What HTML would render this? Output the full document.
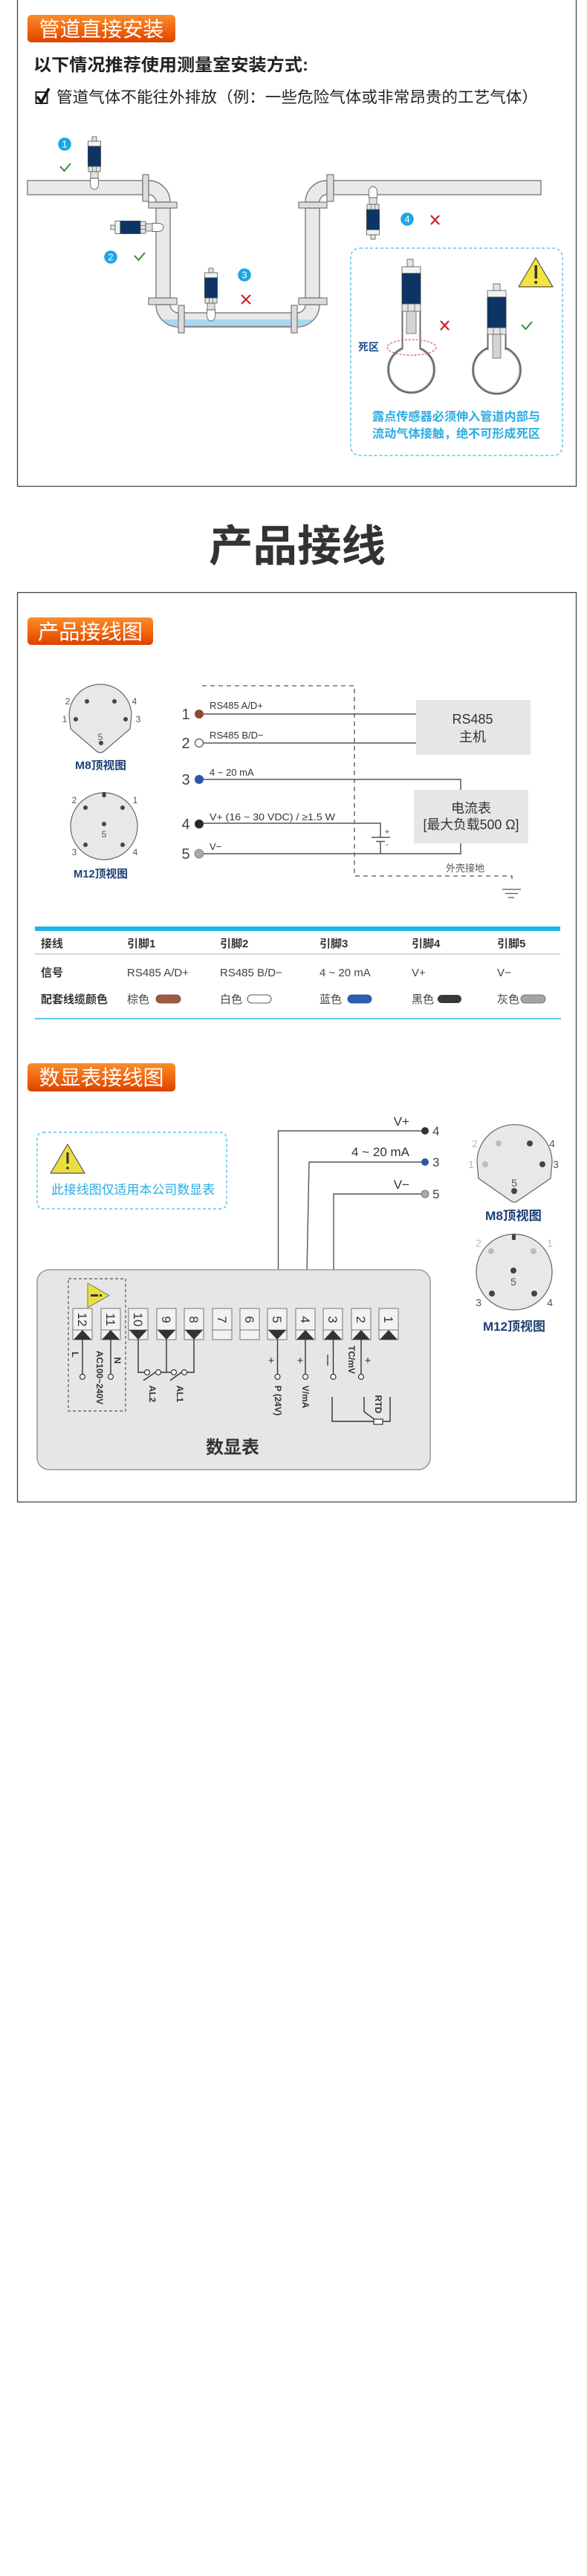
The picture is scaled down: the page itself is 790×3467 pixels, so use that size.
<!DOCTYPE html>
<html><head><meta charset="utf-8">
<style>
html,body{margin:0;padding:0;background:#fff;}
body{width:790px;height:3467px;overflow:hidden;}
svg{display:block;}
text{font-family:"Liberation Sans","Noto Sans CJK SC",sans-serif;}
</style></head>
<body>
<svg width="790" height="3467" viewBox="0 0 790 3467" xmlns="http://www.w3.org/2000/svg">
<defs>
<linearGradient id="og" x1="0" y1="0" x2="0" y2="1">
<stop offset="0" stop-color="#f88d2c"/><stop offset="0.5" stop-color="#f2680f"/><stop offset="1" stop-color="#dc4200"/>
</linearGradient>
<g id="sensor">
<rect x="-3" y="0" width="6" height="6" fill="#e4e4e4" stroke="#555" stroke-width="0.8"/>
<rect x="-8.5" y="6" width="17" height="7" fill="#f2f2f2" stroke="#555" stroke-width="0.8"/>
<rect x="-8.5" y="13" width="17" height="27" fill="#0c3566" stroke="#333" stroke-width="0.8"/>
<rect x="-8" y="40" width="16" height="7" fill="#e4e4e4" stroke="#555" stroke-width="0.8"/>
<line x1="-2.5" y1="40" x2="-2.5" y2="47" stroke="#555" stroke-width="0.7"/>
<line x1="2.5" y1="40" x2="2.5" y2="47" stroke="#555" stroke-width="0.7"/>
<rect x="-5" y="47" width="10" height="9" fill="#e0e0e0" stroke="#555" stroke-width="0.8"/>
<path d="M-5.5,56 H5.5 V64 A5.5,7 0 0 1 -5.5,64 Z" fill="#fff" stroke="#666" stroke-width="0.9"/>
</g>
<clipPath id="wclip"><rect x="0" y="430" width="790" height="20"/></clipPath>
</defs>

<!-- ============ FRAME 1 ============ -->
<path d="M23.5,-2 V654.5 H775.5 V-2" fill="none" stroke="#444" stroke-width="1.3"/>
<rect x="37" y="20" width="199" height="37" rx="5" fill="url(#og)"/>
<text x="136.5" y="49" font-size="28" fill="#fff" text-anchor="middle" textLength="168" lengthAdjust="spacingAndGlyphs">管道直接安装</text>
<text x="45" y="95" font-size="23" font-weight="bold" fill="#222" textLength="370" lengthAdjust="spacingAndGlyphs">以下情况推荐使用测量室安装方式:</text>
<rect x="48.5" y="124" width="15" height="15" fill="none" stroke="#222" stroke-width="2"/>
<path d="M50,130 L55.5,137.5 L66,119" fill="none" stroke="#111" stroke-width="3.5"/>
<text x="76" y="138" font-size="21" fill="#222" textLength="648" lengthAdjust="spacingAndGlyphs">管道气体不能往外排放（例：一些危险气体或非常昂贵的工艺气体）</text>

<!-- pipes -->
<g fill="#e9e9ea" stroke="#7a7a7a" stroke-width="1.4">
<rect x="37" y="243" width="155" height="19"/>
<path d="M200,243 A29,29 0 0 1 229,272 L210,272 A10,10 0 0 0 200,262 Z"/>
<rect x="210" y="280" width="19" height="121"/>
<path d="M210,410 A30,30 0 0 0 240,440 L240,421 A11,11 0 0 1 229,410 Z"/>
<rect x="248" y="421" width="144" height="19"/>
<path d="M400,440 A30,30 0 0 0 430,410 L411,410 A11,11 0 0 1 400,421 Z"/>
<rect x="411" y="280" width="19" height="121"/>
<path d="M411,272 A29,29 0 0 1 440,243 L440,262 A10,10 0 0 0 430,272 Z"/>
<rect x="449" y="243" width="279" height="19"/>
</g>
<!-- water -->
<g fill="#a8d8ec" clip-path="url(#wclip)">
<path d="M210.7,410 A29.3,29.3 0 0 0 240,439.3 L240,421 A11,11 0 0 1 229,410 Z"/>
<rect x="248" y="430" width="144" height="9.3"/>
<path d="M400,439.3 A29.3,29.3 0 0 0 429.3,410 L411,410 A11,11 0 0 1 400,421 Z"/>
</g>
<line x1="248" y1="439.5" x2="392" y2="439.5" stroke="#7a7a7a" stroke-width="1.4"/>
<!-- flanges -->
<g fill="#dcdcdc" stroke="#777" stroke-width="1.2">
<rect x="192" y="235" width="8" height="36"/>
<rect x="200" y="272" width="38" height="8"/>
<rect x="200" y="401" width="38" height="9"/>
<rect x="240" y="411" width="8" height="37"/>
<rect x="392" y="411" width="8" height="37"/>
<rect x="402" y="401" width="38" height="9"/>
<rect x="402" y="272" width="38" height="8"/>
<rect x="440" y="235" width="9" height="36"/>
</g>
<!-- sensors -->
<use href="#sensor" transform="translate(127,184)"/>
<use href="#sensor" transform="translate(149,306) rotate(-90)"/>
<use href="#sensor" transform="translate(284,361)"/>
<use href="#sensor" transform="translate(502,322) rotate(180)"/>
<!-- badges -->
<g fill="#1ea6e2">
<circle cx="87" cy="194" r="8.8"/><circle cx="149" cy="346" r="8.8"/><circle cx="329" cy="370" r="8.8"/><circle cx="548" cy="295" r="8.8"/>
</g>
<g fill="#fff" font-size="13" text-anchor="middle">
<text x="87" y="198.5">1</text><text x="149" y="350.5">2</text><text x="329" y="374.5">3</text><text x="548" y="299.5">4</text>
</g>
<g fill="none" stroke="#3a8a3a" stroke-width="2">
<path d="M81,224 L86.5,230 L95,220"/>
<path d="M181,344 L186.5,350 L195,340"/>
<path d="M702,437 L707.5,443 L716,433"/>
</g>
<g stroke="#d0202a" stroke-width="2.2">
<path d="M325,397 L337,409 M337,397 L325,409"/>
<path d="M580,290 L591,302 M591,290 L580,302"/>
<path d="M593,432 L604,444 M604,432 L593,444"/>
</g>

<!-- dashed box -->
<rect x="472" y="334" width="285" height="279" rx="12" fill="none" stroke="#5bc8ec" stroke-width="1.5" stroke-dasharray="4,3"/>
<polygon points="721,347 744,386 698,386" fill="#f2e53c" stroke="#555" stroke-width="1.2" stroke-linejoin="round"/>
<rect x="719.5" y="357" width="3.5" height="18" fill="#333"/><circle cx="721.2" cy="380" r="2" fill="#333"/>
<!-- left big sensor -->
<circle cx="553.5" cy="497.5" r="31" fill="#fff" stroke="#6a6a6a" stroke-width="2.6"/>
<circle cx="553.5" cy="497.5" r="29" fill="none" stroke="#cfcfcf" stroke-width="1"/>
<rect x="542.5" y="462" width="22" height="10" fill="#fff"/>
<line x1="541.5" y1="419" x2="541.5" y2="470" stroke="#6a6a6a" stroke-width="2"/>
<line x1="565.5" y1="419" x2="565.5" y2="470" stroke="#6a6a6a" stroke-width="2"/>
<rect x="548" y="349" width="8" height="10" fill="#e4e4e4" stroke="#555" stroke-width="0.8"/>
<rect x="541" y="359" width="25" height="9" fill="#f2f2f2" stroke="#555" stroke-width="0.8"/>
<rect x="541" y="368" width="25" height="41" fill="#0c3566" stroke="#333" stroke-width="0.8"/>
<rect x="541" y="409" width="25" height="10" fill="#e4e4e4" stroke="#555" stroke-width="0.8"/>
<line x1="549" y1="409" x2="549" y2="419" stroke="#555" stroke-width="0.7"/><line x1="558" y1="409" x2="558" y2="419" stroke="#555" stroke-width="0.7"/>
<rect x="547" y="419" width="13" height="30" fill="#d4d4d4" stroke="#666" stroke-width="0.8"/>
<ellipse cx="554" cy="467.5" rx="33" ry="10.5" fill="none" stroke="#e06070" stroke-width="1.3" stroke-dasharray="3,2"/>
<text x="482" y="472" font-size="14" font-weight="bold" fill="#1a4a8a">死区</text>
<!-- right big sensor -->
<circle cx="668.5" cy="498" r="32" fill="#fff" stroke="#6a6a6a" stroke-width="2.6"/>
<circle cx="668.5" cy="498" r="30" fill="none" stroke="#cfcfcf" stroke-width="1"/>
<rect x="657.5" y="462" width="22" height="10" fill="#fff"/>
<line x1="656.5" y1="450" x2="656.5" y2="471" stroke="#6a6a6a" stroke-width="2"/>
<line x1="680.5" y1="450" x2="680.5" y2="471" stroke="#6a6a6a" stroke-width="2"/>
<rect x="664" y="382" width="9" height="9" fill="#e4e4e4" stroke="#555" stroke-width="0.8"/>
<rect x="656" y="391" width="25" height="9" fill="#f2f2f2" stroke="#555" stroke-width="0.8"/>
<rect x="656" y="400" width="25" height="41" fill="#0c3566" stroke="#333" stroke-width="0.8"/>
<rect x="656" y="441" width="25" height="9" fill="#e4e4e4" stroke="#555" stroke-width="0.8"/>
<line x1="664" y1="441" x2="664" y2="450" stroke="#555" stroke-width="0.7"/><line x1="673" y1="441" x2="673" y2="450" stroke="#555" stroke-width="0.7"/>
<rect x="663" y="450" width="11" height="32" fill="#d4d4d4" stroke="#666" stroke-width="0.8"/>
<text x="501" y="566" font-size="16" font-weight="bold" fill="#2aace2" textLength="226" lengthAdjust="spacingAndGlyphs">露点传感器必须伸入管道内部与</text>
<text x="501" y="589" font-size="16" font-weight="bold" fill="#2aace2" textLength="226" lengthAdjust="spacingAndGlyphs">流动气体接触，绝不可形成死区</text>

<!-- ============ HEADING ============ -->
<text x="281" y="755" font-size="58" font-weight="bold" fill="#333" textLength="238" lengthAdjust="spacingAndGlyphs">产品接线</text>

<!-- ============ FRAME 2 ============ -->
<rect x="23.5" y="797.5" width="752" height="1224" fill="none" stroke="#444" stroke-width="1.3"/>
<rect x="37" y="831" width="169" height="37" rx="5" fill="url(#og)"/>
<text x="121.5" y="860" font-size="28" fill="#fff" text-anchor="middle" textLength="141" lengthAdjust="spacingAndGlyphs">产品接线图</text>

<!-- M8 connector -->
<path d="M93,963 A42,42 0 0 1 177,963 L175,981 L140,1011 Q135,1015 130,1011 L95,981 Z" fill="#e8e8e8" stroke="#666" stroke-width="1.2"/>
<g fill="#444"><circle cx="117" cy="944" r="3"/><circle cx="154" cy="944" r="3"/><circle cx="102" cy="968" r="3"/><circle cx="169" cy="968" r="3"/><circle cx="136" cy="1000" r="3"/></g>
<g font-size="12" fill="#555" text-anchor="middle">
<text x="91" y="948">2</text><text x="181" y="948">4</text><text x="87" y="972">1</text><text x="186" y="972">3</text><text x="135" y="996">5</text>
</g>
<text x="101" y="1035" font-size="15" font-weight="bold" fill="#1d3f73" textLength="69" lengthAdjust="spacingAndGlyphs">M8顶视图</text>
<!-- M12 -->
<circle cx="140" cy="1112" r="45" fill="#e8e8e8" stroke="#666" stroke-width="1.2"/>
<rect x="137.5" y="1066" width="5" height="7" rx="1.5" fill="#444"/>
<g fill="#444"><circle cx="115" cy="1087" r="3"/><circle cx="165" cy="1087" r="3"/><circle cx="140" cy="1109" r="3"/><circle cx="115" cy="1137" r="3"/><circle cx="165" cy="1137" r="3"/></g>
<g font-size="12" fill="#555" text-anchor="middle">
<text x="100" y="1081">2</text><text x="182" y="1081">1</text><text x="140" y="1127">5</text><text x="100" y="1151">3</text><text x="182" y="1151">4</text>
</g>
<text x="99" y="1181" font-size="15" font-weight="bold" fill="#1d3f73" textLength="73" lengthAdjust="spacingAndGlyphs">M12顶视图</text>

<!-- wiring -->
<path d="M272,923 H477 V1179 H689 V1188" fill="none" stroke="#555" stroke-width="1.3" stroke-dasharray="6,5"/>
<rect x="560" y="942" width="154" height="74" fill="#e6e6e7"/>
<rect x="557" y="1063" width="154" height="72" fill="#e6e6e7"/>
<g stroke="#555" stroke-width="1.5" fill="none">
<path d="M274,961 H560"/>
<path d="M274,1000 H560"/>
<path d="M274,1049 H620 V1063"/>
<path d="M274,1108 H512 V1127"/>
<path d="M512,1132 V1149"/>
<path d="M274,1149 H620 V1135"/>
<path d="M500,1127 H525"/>
<path d="M506,1132.5 H518"/>
<path d="M676,1197 H701 M680,1202.5 H697 M684,1208 H692" stroke-width="1.3"/>
</g>
<circle cx="268" cy="961" r="6" fill="#8e4a30"/>
<circle cx="268" cy="1000" r="5.5" fill="#fff" stroke="#555" stroke-width="1.2"/>
<circle cx="268" cy="1049" r="6" fill="#2d55a8"/>
<circle cx="268" cy="1109" r="6" fill="#2a2a2a"/>
<circle cx="268" cy="1149" r="6" fill="#a8a8a8" stroke="#888" stroke-width="1"/>
<g font-size="20" fill="#444" text-anchor="middle">
<text x="250" y="968">1</text><text x="250" y="1007">2</text><text x="250" y="1056">3</text><text x="250" y="1116">4</text><text x="250" y="1156">5</text>
</g>
<g font-size="13" fill="#333">
<text x="282" y="954">RS485 A/D+</text>
<text x="282" y="994">RS485 B/D−</text>
<text x="282" y="1044">4 ~ 20 mA</text>
<text x="282" y="1104" textLength="169" lengthAdjust="spacingAndGlyphs">V+ (16 ~ 30 VDC) / ≥1.5 W</text>
<text x="282" y="1144">V−</text>
</g>
<text x="521" y="1123" font-size="11" fill="#444" text-anchor="middle">+</text>
<text x="521" y="1140" font-size="11" fill="#444" text-anchor="middle">-</text>
<g font-size="18" fill="#333" text-anchor="middle">
<text x="636" y="974">RS485</text>
<text x="636" y="998">主机</text>
<text x="634" y="1094">电流表</text>
<text x="634" y="1116" textLength="129" lengthAdjust="spacingAndGlyphs">[最大负载500 Ω]</text>
</g>
<text x="600" y="1173" font-size="13" fill="#555">外壳接地</text>

<!-- table -->
<rect x="47" y="1247" width="707" height="6" fill="#1cb5e6"/>
<g font-size="15" font-weight="bold" fill="#333">
<text x="55" y="1275">接线</text><text x="171" y="1275">引脚1</text><text x="296" y="1275">引脚2</text><text x="430" y="1275">引脚3</text><text x="554" y="1275">引脚4</text><text x="669" y="1275">引脚5</text>
<text x="55" y="1314">信号</text>
<text x="55" y="1350">配套线缆颜色</text>
</g>
<line x1="47" y1="1284" x2="754" y2="1284" stroke="#c8c8c8" stroke-width="1.5"/>
<g font-size="15" fill="#444">
<text x="171" y="1314">RS485 A/D+</text><text x="296" y="1314">RS485 B/D−</text><text x="430" y="1314">4 ~ 20 mA</text><text x="554" y="1314">V+</text><text x="669" y="1314">V−</text>
<text x="171" y="1350">棕色</text><text x="296" y="1350">白色</text><text x="430" y="1350">蓝色</text><text x="554" y="1350">黑色</text><text x="669" y="1350">灰色</text>
</g>
<rect x="210" y="1339" width="33" height="11" rx="5.5" fill="#9c5a44" stroke="#7a4030" stroke-width="0.8"/>
<rect x="333" y="1339" width="32" height="11" rx="5.5" fill="#fff" stroke="#555" stroke-width="1"/>
<rect x="468" y="1339" width="32" height="11" rx="5.5" fill="#2d5fb0" stroke="#1e4a90" stroke-width="0.8"/>
<rect x="589" y="1339" width="32" height="11" rx="5.5" fill="#383838"/>
<rect x="701" y="1339" width="33" height="11" rx="5.5" fill="#a4a4a4" stroke="#777" stroke-width="1"/>
<line x1="47" y1="1371" x2="755" y2="1371" stroke="#5cc8f0" stroke-width="2"/>

<!-- ============ 数显表接线图 ============ -->
<rect x="37" y="1431" width="199" height="38" rx="5" fill="url(#og)"/>
<text x="136.5" y="1460" font-size="28" fill="#fff" text-anchor="middle" textLength="168" lengthAdjust="spacingAndGlyphs">数显表接线图</text>

<rect x="50" y="1524" width="255" height="103" rx="8" fill="none" stroke="#5bc8ec" stroke-width="1.5" stroke-dasharray="4,3"/>
<polygon points="91,1540 114,1579 68,1579" fill="#eadf3f" stroke="#555" stroke-width="1.2" stroke-linejoin="round"/>
<rect x="89.5" y="1551" width="3" height="15" fill="#333"/><circle cx="91" cy="1572" r="1.8" fill="#333"/>
<text x="69" y="1607" font-size="17" fill="#2aace2" textLength="220" lengthAdjust="spacingAndGlyphs">此接线图仅适用本公司数显表</text>

<!-- wires to display -->
<g stroke="#555" stroke-width="1.4" fill="none">
<path d="M572,1522 H374.5 V1761"/>
<path d="M572,1564 H416 L412,1761"/>
<path d="M572,1607 H449 V1761"/>
</g>
<circle cx="572" cy="1522" r="5" fill="#333"/>
<circle cx="572" cy="1564" r="5" fill="#2d55a8"/>
<circle cx="572" cy="1607" r="5" fill="#a8a8a8" stroke="#777" stroke-width="1"/>
<g font-size="17" fill="#444">
<text x="582" y="1528">4</text><text x="582" y="1570">3</text><text x="582" y="1613">5</text>
</g>
<g font-size="17" fill="#333" text-anchor="end">
<text x="551" y="1515">V+</text>
<text x="551" y="1556">4 ~ 20 mA</text>
<text x="551" y="1600">V−</text>
</g>

<!-- M8 right -->
<path d="M642,1564 A50.5,50.5 0 0 1 743,1564 L741,1586 L697,1616 Q692,1620 687,1616 L644,1586 Z" fill="#e8e8e8" stroke="#666" stroke-width="1.2"/>
<circle cx="671" cy="1539" r="4" fill="#bbb"/><circle cx="713" cy="1539" r="4" fill="#444"/>
<circle cx="653" cy="1567" r="4" fill="#bbb"/><circle cx="730" cy="1567" r="4" fill="#444"/>
<circle cx="692" cy="1603" r="4" fill="#444"/>
<g font-size="14" text-anchor="middle">
<text x="639" y="1544" fill="#bbb">2</text><text x="743" y="1544" fill="#555">4</text>
<text x="634" y="1572" fill="#bbb">1</text><text x="748" y="1572" fill="#555">3</text>
<text x="692" y="1597" fill="#555">5</text>
</g>
<text x="653" y="1642" font-size="17" font-weight="bold" fill="#1d3f73" textLength="76" lengthAdjust="spacingAndGlyphs">M8顶视图</text>
<!-- M12 right -->
<circle cx="692" cy="1712" r="51" fill="#e8e8e8" stroke="#666" stroke-width="1.2"/>
<rect x="689" y="1661" width="5" height="8" rx="1.5" fill="#444"/>
<circle cx="661" cy="1684" r="4" fill="#bbb"/><circle cx="718" cy="1684" r="4" fill="#bbb"/>
<circle cx="691" cy="1710" r="4" fill="#444"/>
<circle cx="662" cy="1741" r="4" fill="#444"/><circle cx="719" cy="1741" r="4" fill="#444"/>
<g font-size="14" text-anchor="middle">
<text x="644" y="1678" fill="#bbb">2</text><text x="740" y="1678" fill="#bbb">1</text>
<text x="691" y="1730" fill="#555">5</text>
<text x="644" y="1758" fill="#555">3</text><text x="740" y="1758" fill="#555">4</text>
</g>
<text x="650" y="1791" font-size="17" font-weight="bold" fill="#1d3f73" textLength="84" lengthAdjust="spacingAndGlyphs">M12顶视图</text>

<!-- display block -->
<rect x="50" y="1709" width="529" height="269" rx="16" fill="#e6e6e8" stroke="#999" stroke-width="1.5"/>
<rect x="92" y="1721" width="77" height="178" fill="none" stroke="#555" stroke-width="1.2" stroke-dasharray="4,3"/>
<!-- terminals -->
<g fill="#f2f2f2" stroke="#777" stroke-width="1">
<rect x="98" y="1761" width="26" height="42"/><rect x="136" y="1761" width="26" height="42"/><rect x="173" y="1761" width="26" height="42"/><rect x="211" y="1761" width="26" height="42"/><rect x="248" y="1761" width="26" height="42"/><rect x="286" y="1761" width="26" height="42"/><rect x="323" y="1761" width="26" height="42"/><rect x="360" y="1761" width="26" height="42"/><rect x="398" y="1761" width="26" height="42"/><rect x="435" y="1761" width="26" height="42"/><rect x="473" y="1761" width="26" height="42"/><rect x="510" y="1761" width="26" height="42"/>
</g>
<g stroke="#777" stroke-width="1">
<path d="M98,1790h26M136,1790h26M173,1790h26M211,1790h26M248,1790h26M286,1790h26M323,1790h26M360,1790h26M398,1790h26M435,1790h26M473,1790h26M510,1790h26"/>
</g>
<g font-size="17" fill="#333" text-anchor="middle">
<text transform="translate(105,1776) rotate(90)">12</text>
<text transform="translate(143,1776) rotate(90)">11</text>
<text transform="translate(180,1776) rotate(90)">10</text>
<text transform="translate(218,1776) rotate(90)">9</text>
<text transform="translate(255,1776) rotate(90)">8</text>
<text transform="translate(293,1776) rotate(90)">7</text>
<text transform="translate(330,1776) rotate(90)">6</text>
<text transform="translate(367,1776) rotate(90)">5</text>
<text transform="translate(405,1776) rotate(90)">4</text>
<text transform="translate(442,1776) rotate(90)">3</text>
<text transform="translate(480,1776) rotate(90)">2</text>
<text transform="translate(517,1776) rotate(90)">1</text>
</g>
<g fill="#333">
<polygon points="99,1803 123,1803 111,1790"/>
<polygon points="137,1803 161,1803 149,1790"/>
<polygon points="174,1790 198,1790 186,1803"/>
<polygon points="212,1790 236,1790 224,1803"/>
<polygon points="249,1790 273,1790 261,1803"/>
<polygon points="361,1790 385,1790 373,1803"/>
<polygon points="399,1803 423,1803 411,1790"/>
<polygon points="436,1803 460,1803 448,1790"/>
<polygon points="474,1803 498,1803 486,1790"/>
<polygon points="511,1803 535,1803 523,1790"/>
</g>
<g stroke="#333" stroke-width="1.4" fill="none">
<path d="M111,1803V1849.5M149,1803V1849.5M373.5,1803V1849.5M411,1803V1849.5M448.5,1803V1849.5M486,1803V1849.5"/>
<path d="M186,1803V1847H194.5"/>
<path d="M216.5,1847H230.5M224,1803V1847"/>
<path d="M251.5,1847H261V1803"/>
<path d="M193,1858L212,1845M229,1858L247,1845"/>
<path d="M447,1880V1913H503M515,1913H525V1880M490,1880V1900L505,1911"/>
</g>
<g fill="#fff" stroke="#333" stroke-width="1.2">
<circle cx="111" cy="1853" r="3.5"/><circle cx="149" cy="1853" r="3.5"/>
<circle cx="373.5" cy="1853" r="3.5"/><circle cx="411" cy="1853" r="3.5"/><circle cx="448.5" cy="1853" r="3.5"/><circle cx="486" cy="1853" r="3.5"/>
<circle cx="198" cy="1847" r="3.5"/><circle cx="213" cy="1847" r="3.5"/><circle cx="234" cy="1847" r="3.5"/><circle cx="248" cy="1847" r="3.5"/>
<rect x="503" y="1910" width="12" height="7"/>
</g>
<polygon points="118,1727 147,1743.5 118,1760" fill="#e8e03a" stroke="#777" stroke-width="1" stroke-linejoin="round"/>
<rect x="122" y="1742" width="10" height="3" fill="#333"/><circle cx="135.5" cy="1743.5" r="1.6" fill="#333"/>
<g font-size="12" font-weight="bold" fill="#333" text-anchor="middle">
<text transform="translate(97,1823) rotate(90)">L</text>
<text transform="translate(154,1831) rotate(90)">N</text>
<text transform="translate(130,1854) rotate(90)">AC100~240V</text>
<text transform="translate(201,1876) rotate(90)">AL2</text>
<text transform="translate(238,1876) rotate(90)">AL1</text>
<text transform="translate(370,1885) rotate(90)">P (24V)</text>
<text transform="translate(407,1880) rotate(90)">V/mA</text>
<text transform="translate(469,1830) rotate(90)">TC/mV</text>
<text transform="translate(505,1890) rotate(90)">RTD</text>
</g>
<g font-size="15" fill="#333" text-anchor="middle">
<text x="365" y="1836">+</text><text x="404" y="1836">+</text><text x="495" y="1836">+</text>
</g>
<line x1="441" y1="1823" x2="441" y2="1838" stroke="#333" stroke-width="1.3"/>
<text x="313" y="1956" font-size="24" font-weight="bold" fill="#333" text-anchor="middle">数显表</text>
</svg>
</body></html>
